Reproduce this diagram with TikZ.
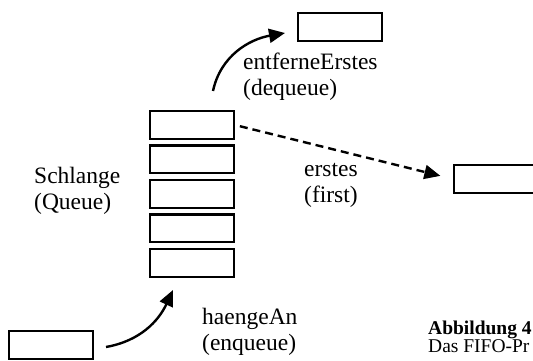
\documentclass[tikz,border=0pt]{standalone}
\usepackage{fontspec}
\setmainfont{Liberation Serif}
\usetikzlibrary{positioning,arrows.meta}

\begin{document}
\begin{tikzpicture}[x=1pt,y=1pt,node distance=4.5pt,
          box/.style={draw,line width=2.2pt,minimum width=83.8pt,minimum height=27.8pt,inner sep=0pt},
          lbl/.style={anchor=base west,align=left,inner sep=0pt,font=\fontsize{23.5}{26}\selectfont},
          arr/.style={line width=2.4pt,-{Triangle[length=16pt,width=14pt]}}]
          \useasboundingbox (0,0) rectangle (533,361);
          \clip (0,0) rectangle (533,361);
          % Schlange
          \node[box,anchor=north west](q1) at (149,251) {};
          \node[box,below=of q1](q2) {};
          \node[box,below=of q2](q3) {};
          \node[box,below=of q3](q4) {};
          \node[box,below=of q4](q5) {};
          \node[lbl](schlange) at (34,151) {Schlange\\(Queue)};
          % Elemente
          \node[box,anchor=north west](out) at (297,349) {};
          \node[box,anchor=north west](first) at (453,197) {};
          \node[box,anchor=north west](in) at (8,31) {};
          \coordinate (deqstart) at ([shift={(21,19)}]q1.north);
          \coordinate (deqend) at ([shift={(-12,-6)}]out.west);
          \coordinate (enqstart) at ([shift={(12,-2)}]in.east);
          \coordinate (enqend) at ([shift={(-19,-12)}]q5.south);
          \draw[arr](deqstart) to[out=78,in=190] (deqend);
          \draw[arr](enqstart) to[out=10,in=245] (enqend);
          \draw[arr,dash pattern=on 8pt off 5pt,shorten <=5pt,shorten >=13pt](q1.east) -- (first.west);
          \node[lbl](deq) at (243,265) {entferneErstes\\(dequeue)};
          \node[lbl](fst) at (304,158) {erstes\\(first)};
          \node[lbl](enq) at (202,10) {haengeAn\\(enqueue)};
          % Bildunterschrift
          \node[lbl,font=\fontsize{19.5}{18}\selectfont](cap) at (428,8) {\textbf{Abbildung 4}\\Das FIFO-Pr};
        \end{tikzpicture}
\end{document}
